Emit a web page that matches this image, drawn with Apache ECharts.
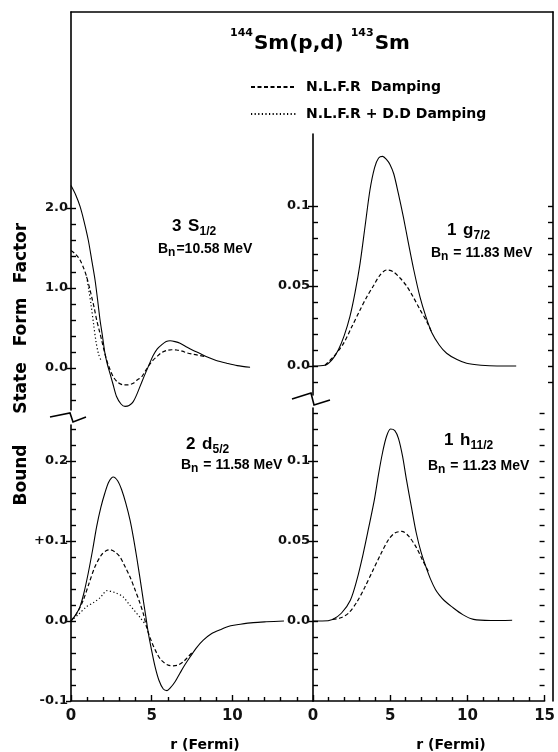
<!DOCTYPE html>
<html>
<head>
<meta charset="utf-8">
<script src="https://cdn.jsdelivr.net/npm/echarts@6/dist/echarts.min.js"></script>
<style>html,body{margin:0;padding:0;background:#fff;}#c{width:558px;height:752px;}</style>
</head>
<body>
<div id="c"></div>
<script>
// ---------- data ----------
const tlSolid = [[0,2.28],[0.3,2.16],[0.56,2.02],[0.8,1.84],[1.07,1.6],[1.3,1.33],[1.49,1.1],[1.65,0.85],[1.8,0.6],[1.95,0.4],[2.1,0.19],[2.25,0.05],[2.42,-0.07],[2.6,-0.2],[2.83,-0.36],[3.1,-0.45],[3.35,-0.48],[3.6,-0.47],[3.86,-0.42],[4.08,-0.33],[4.28,-0.23],[4.5,-0.12],[4.69,-0.03],[4.9,0.07],[5.1,0.16],[5.35,0.24],[5.62,0.29],[5.9,0.33],[6.14,0.34],[6.45,0.33],[6.76,0.31],[7.2,0.26],[7.58,0.22],[8.0,0.18],[8.41,0.14],[9.0,0.095],[9.65,0.06],[10.3,0.03],[11.1,0.01]];
const tlDashed = [[0,1.47],[0.3,1.42],[0.56,1.35],[0.8,1.24],[0.97,1.14],[1.15,1.0],[1.28,0.89],[1.45,0.74],[1.59,0.6],[1.75,0.47],[1.9,0.35],[2.05,0.22],[2.21,0.1],[2.4,-0.01],[2.62,-0.11],[2.9,-0.18],[3.24,-0.21],[3.55,-0.21],[3.86,-0.19],[4.1,-0.15],[4.38,-0.11],[4.6,-0.04],[4.79,0.02],[5.05,0.09],[5.31,0.14],[5.6,0.19],[5.93,0.22],[6.25,0.228],[6.55,0.225],[6.9,0.21],[7.17,0.19],[7.6,0.17],[8.0,0.155],[8.41,0.14]];
const tlDotted = [[0.97,1.14],[1.1,0.98],[1.25,0.78],[1.4,0.55],[1.55,0.33],[1.7,0.18],[1.85,0.1]];
const trSolid = [[0,0],[0.75,0.0005],[1.2,0.004],[1.58,0.01],[1.95,0.019],[2.31,0.031],[2.63,0.046],[2.94,0.064],[3.25,0.087],[3.56,0.11],[3.85,0.124],[4.1,0.13],[4.35,0.131],[4.6,0.129],[4.81,0.126],[5.05,0.12],[5.33,0.108],[5.65,0.093],[5.96,0.077],[6.3,0.06],[6.69,0.043],[7.05,0.031],[7.42,0.021],[7.9,0.013],[8.35,0.008],[9.0,0.004],[9.6,0.0017],[10.5,0.0005],[11.5,0],[12.7,0]];
const trDashed = [[0.75,0.0005],[1.3,0.006],[1.9,0.014],[2.4,0.024],[2.94,0.035],[3.35,0.043],[3.77,0.05],[4.2,0.057],[4.6,0.06],[5.0,0.059],[5.44,0.055],[5.85,0.05],[6.27,0.043],[6.7,0.035],[7.1,0.028],[7.42,0.021]];
const blSolid = [[0,0],[0.3,0.008],[0.56,0.018],[0.8,0.035],[1.07,0.06],[1.35,0.09],[1.59,0.118],[1.85,0.142],[2.1,0.16],[2.35,0.174],[2.62,0.18],[2.9,0.175],[3.14,0.164],[3.4,0.147],[3.66,0.126],[3.87,0.104],[4.07,0.08],[4.28,0.053],[4.48,0.026],[4.65,0.004],[4.79,-0.015],[5.0,-0.037],[5.21,-0.057],[5.45,-0.074],[5.72,-0.085],[5.95,-0.087],[6.14,-0.084],[6.45,-0.076],[6.76,-0.065],[7.05,-0.055],[7.38,-0.045],[7.8,-0.033],[8.2,-0.024],[8.7,-0.016],[9.24,-0.011],[9.9,-0.006],[10.5,-0.004],[11.3,-0.002],[12.1,-0.001],[13.2,0]];
const blDashed = [[0,0],[0.4,0.011],[0.76,0.026],[1.1,0.046],[1.49,0.068],[1.9,0.083],[2.2,0.088],[2.42,0.089],[2.75,0.086],[3.04,0.08],[3.35,0.068],[3.66,0.055],[3.97,0.039],[4.28,0.022],[4.5,0.008],[4.69,-0.008],[5.0,-0.026],[5.31,-0.04],[5.6,-0.049],[6.0,-0.055],[6.34,-0.056],[6.65,-0.055],[6.96,-0.051],[7.2,-0.046],[7.48,-0.04]];
const blDotted = [[0,0],[0.5,0.009],[0.97,0.018],[1.4,0.023],[1.8,0.029],[2.0,0.034],[2.21,0.038],[2.5,0.037],[2.8,0.035],[3.24,0.03],[3.6,0.021],[3.97,0.012],[4.3,0.004],[4.6,-0.004]];
const brSolid = [[0,0],[0.6,0],[1.27,0.001],[1.85,0.005],[2.42,0.013],[2.85,0.026],[3.25,0.042],[3.6,0.058],[3.98,0.076],[4.25,0.092],[4.5,0.105],[4.75,0.115],[5.02,0.12],[5.3,0.119],[5.54,0.114],[5.8,0.103],[6.06,0.088],[6.38,0.071],[6.69,0.055],[7.0,0.043],[7.31,0.034],[7.62,0.026],[7.94,0.0195],[8.2,0.016],[8.5,0.0128],[8.98,0.009],[9.7,0.004],[10.4,0.001],[11.5,0.0003],[12.9,0.0005]];
const brDashed = [[1.27,0.001],[1.8,0.002],[2.31,0.005],[2.85,0.012],[3.35,0.021],[3.9,0.032],[4.4,0.042],[4.9,0.051],[5.3,0.055],[5.75,0.056],[6.2,0.053],[6.69,0.046],[7.1,0.038],[7.52,0.03]];

// tick values and labels
const xLeftLabels = [0,5,10];
const xRightLabels = [0,5,10,15];
const xMinor = [1,2,3,4,6,7,8,9,11,12,13,14];
const tlLabelVals = [0,1,2], tlLabelText = ['0.0','1.0','2.0'];
const tlMinor = [-0.4,-0.2,0,0.2,0.4,0.6,0.8,1.0,1.2,1.4,1.6,1.8,2.0];
const trLabelVals = [0,0.05,0.1], trLabelText = ['0.0','0.05','0.1'];
const trMinor = [-0.01,0,0.01,0.02,0.03,0.04,0.05,0.06,0.07,0.08,0.09,0.1];
const blLabelVals = [-0.1,0,0.1,0.2], blLabelText = ['-0.1','0.0','+0.1','0.2'];
const blMinor = [-0.08,-0.06,-0.04,-0.02,0,0.02,0.04,0.06,0.08,0.1,0.12,0.14,0.16,0.18,0.2,0.22,0.24];
const brLabelVals = [0,0.05,0.1], brLabelText = ['0.0','0.05','0.1'];
const brMinor = [-0.04,-0.03,-0.02,-0.01,0,0.01,0.02,0.03,0.04,0.05,0.06,0.07,0.08,0.09,0.1,0.11,0.12,0.13];
const yNameWords = ['Bound', 'State', 'Form', 'Factor'];

const seriesDashed = 'N.L.F.R  Damping';
const seriesDotted = 'N.L.F.R + D.D Damping';

// ---------- styling helpers ----------
const FONT = 'DejaVu Sans';
const FONT2 = 'Liberation Sans';
const lblStyle = {fontFamily: FONT, fontWeight: 'bold', fontSize: 13, color: '#111'};
function fmt(vals, texts){ return function(v){ for (let i=0;i<vals.length;i++){ if (Math.abs(v-vals[i])<1e-9) return texts[i]; } return ''; }; }

function yMain(grid, min, max, vals, texts){
  return {type:'value', gridIndex:grid, position:'left', min:min, max:max,
    axisLine:{show:true, lineStyle:{color:'#000', width:1.6}},
    axisTick:{show:true, inside:false, length:5, customValues: vals, lineStyle:{color:'#000', width:1.4}},
    axisLabel:{show:true, margin:3, customValues: vals, formatter: fmt(vals, texts), ...lblStyle},
    splitLine:{show:false}};
}
function yMinor(grid, min, max, vals, pos){
  return {type:'value', gridIndex:grid, position:pos||'left', min:min, max:max,
    axisLine:{show:false},
    axisTick:{show:true, inside:true, length:5, customValues: vals, lineStyle:{color:'#000', width:1.4}},
    axisLabel:{show:false}, splitLine:{show:false}};
}
function xMain(grid, vals){
  return {type:'value', gridIndex:grid, position:'bottom', min:0, max:15,
    axisLine:{show:true, onZero:false, lineStyle:{color:'#000', width:1.6}},
    axisTick:{show:true, inside:true, length:6, customValues: vals, lineStyle:{color:'#000', width:1.4}},
    axisLabel:{show:true, margin:8, customValues: vals, formatter: v => String(v), ...lblStyle, fontSize:15},
    splitLine:{show:false}};
}
function xMinorAxis(grid){
  return {type:'value', gridIndex:grid, position:'bottom', min:0, max:15,
    axisLine:{show:false, onZero:false},
    axisTick:{show:true, inside:true, length:4, customValues: xMinor, lineStyle:{color:'#000', width:1.4}},
    axisLabel:{show:false}, splitLine:{show:false}};
}
function xHidden(grid){ return {type:'value', gridIndex:grid, min:0, max:15, show:false}; }

function line(name, data, xi, yi, kind){
  const ls = {color:'#000', width: kind==='solid'?1.1:1.2};
  if (kind==='dashed') ls.type = [4,2.5];
  if (kind==='dotted') ls.type = [1.2,2.4];
  return {type:'line', name:name, data:data, xAxisIndex:xi, yAxisIndex:yi, showSymbol:false, symbol:'none',
    smooth:0.3, lineStyle:ls, itemStyle:{color:'#000'}, silent:true, z: kind==='solid'?3:4};
}

function panelLabel(x, y, n, l, j){
  return {type:'text', x:x, y:y, style:{
    text:'{a|'+n+'}{sp|  }{a|'+l+'}{s|'+j+'}',
    rich:{a:{fontFamily:FONT2, fontWeight:'bold', fontSize:17, fill:'#000', lineHeight:20, verticalAlign:'top'},
          sp:{fontSize:12, lineHeight:20},
          s:{fontFamily:FONT2, fontWeight:'bold', fontSize:12, fill:'#000', lineHeight:12, verticalAlign:'bottom'}}
  }};
}
function bnLabel(x, y, rest){
  return {type:'text', x:x, y:y, style:{
    text:'{a|B}{s|n}{a|'+rest+'}',
    rich:{a:{fontFamily:FONT2, fontWeight:'bold', fontSize:14, fill:'#000', lineHeight:17, verticalAlign:'top'},
          s:{fontFamily:FONT2, fontWeight:'bold', fontSize:12, fill:'#000', lineHeight:12, verticalAlign:'bottom', padding:[0,1,0,0]}}
  }};
}

// grid layout (pixels)
const grids = [
  {left:71, top:12, width:482, height:689},   // frame
  {left:71, top:12, width:242, height:398},   // top-left
  {left:313, top:134, width:240, height:261}, // top-right
  {left:71, top:425, width:242, height:276},  // bottom-left
  {left:313, top:408, width:240, height:293}  // bottom-right
];
// value ranges consistent with pixel scales
const tlMin = -(410-368)/80, tlMax = (368-12)/80;
const trMin = -(395-366)/1600, trMax = (366-134)/1600;
const blMin = -0.1, blMax = (621-425)/800;
const brMin = -0.05, brMax = (621-408)/1600;

const yNameY = [475, 388, 322, 253];

const option = {
  animation:false,
  backgroundColor:'#fff',
  grid: grids.map(g => Object.assign({containLabel:false}, g)),
  title: {
    left: 225, top: 23,
    text: '{sup|144}{big|Sm(p,d) }{sup|143}{big|Sm}',
    textStyle: {rich:{
      sup:{fontFamily:FONT, fontWeight:'bold', fontSize:11, color:'#000', lineHeight:12, verticalAlign:'top', padding:[0,1,0,0]},
      big:{fontFamily:FONT, fontWeight:'bold', fontSize:20, color:'#000', lineHeight:26, verticalAlign:'bottom'}
    }}
  },
  legend: {
    orient:'vertical', left:245, top:75, itemWidth:45, itemHeight:12, itemGap:13,
    data:[seriesDashed, seriesDotted],
    itemStyle:{color:'rgba(0,0,0,0)', borderWidth:0, opacity:0},
    textStyle:{fontFamily:FONT, fontWeight:'bold', fontSize:14, color:'#000', padding:[0,0,0,5], letterSpacing:-0.3},
    selectedMode:false
  },
  xAxis: [
    {type:'value', gridIndex:0, position:'top', min:0, max:1, axisLine:{show:true, onZero:false, lineStyle:{color:'#000', width:1.6}}, axisTick:{show:false}, axisLabel:{show:false}, splitLine:{show:false}},
    xHidden(1), xHidden(2),
    xMain(3, xLeftLabels), xMinorAxis(3),
    xMain(4, xRightLabels), xMinorAxis(4)
  ],
  yAxis: [
    {type:'value', gridIndex:0, position:'right', min:0, max:1, axisLine:{show:true, onZero:false, lineStyle:{color:'#000', width:1.6}}, axisTick:{show:false}, axisLabel:{show:false}, splitLine:{show:false}},
    yMain(1, tlMin, tlMax, tlLabelVals, tlLabelText), yMinor(1, tlMin, tlMax, tlMinor),
    yMain(2, trMin, trMax, trLabelVals, trLabelText), yMinor(2, trMin, trMax, trMinor), yMinor(2, trMin, trMax, trMinor, 'right'),
    yMain(3, blMin, blMax, blLabelVals, blLabelText), yMinor(3, blMin, blMax, blMinor),
    yMain(4, brMin, brMax, brLabelVals, brLabelText), yMinor(4, brMin, brMax, brMinor), yMinor(4, brMin, brMax, brMinor, 'right')
  ],
  series: [
    line('Solid', tlSolid, 1, 1, 'solid'),
    line(seriesDashed, tlDashed, 1, 1, 'dashed'),
    line(seriesDotted, tlDotted, 1, 1, 'dotted'),
    line('Solid', trSolid, 2, 3, 'solid'),
    line(seriesDashed, trDashed, 2, 3, 'dashed'),
    line('Solid', blSolid, 3, 6, 'solid'),
    line(seriesDashed, blDashed, 3, 6, 'dashed'),
    line(seriesDotted, blDotted, 3, 6, 'dotted'),
    line('Solid', brSolid, 5, 8, 'solid'),
    line(seriesDashed, brDashed, 5, 8, 'dashed')
  ],
  graphic: [
    // axis break marks
    {type:'polyline', shape:{points:[[50,417],[70,413],[73,422],[86,417]]}, style:{stroke:'#000', lineWidth:1.6, fill:null}},
    {type:'polyline', shape:{points:[[292,399],[311,393],[314,405],[330,400]]}, style:{stroke:'#000', lineWidth:1.6, fill:null}},
    // x axis names
    {type:'text', x:205, y:745, style:{text:'r (Fermi)', fontFamily:FONT, fontWeight:'bold', fontSize:14, fill:'#000', align:'center', verticalAlign:'middle'}},
    {type:'text', x:451, y:745, style:{text:'r (Fermi)', fontFamily:FONT, fontWeight:'bold', fontSize:14, fill:'#000', align:'center', verticalAlign:'middle'}},
    // panel labels
    panelLabel(172, 218, '3', 'S', '1/2'),
    bnLabel(158, 242, '=10.58 MeV'),
    panelLabel(447, 222, '1', 'g', '7/2'),
    bnLabel(431, 246, ' = 11.83 MeV'),
    panelLabel(186, 436, '2', 'd', '5/2'),
    bnLabel(181, 458, ' = 11.58 MeV'),
    panelLabel(444, 432, '1', 'h', '11/2'),
    bnLabel(428, 459, ' = 11.23 MeV')
  ].concat(yNameWords.map((w, i) => ({type:'text', x:22, y:yNameY[i], rotation:Math.PI/2,
    style:{text:w, fontFamily:FONT, fontWeight:'bold', fontSize:17, fill:'#000', align:'center', verticalAlign:'middle'}})))
};

const chart = echarts.init(document.getElementById('c'), null, {renderer:'canvas'});
chart.setOption(option);
</script>
</body>
</html>
